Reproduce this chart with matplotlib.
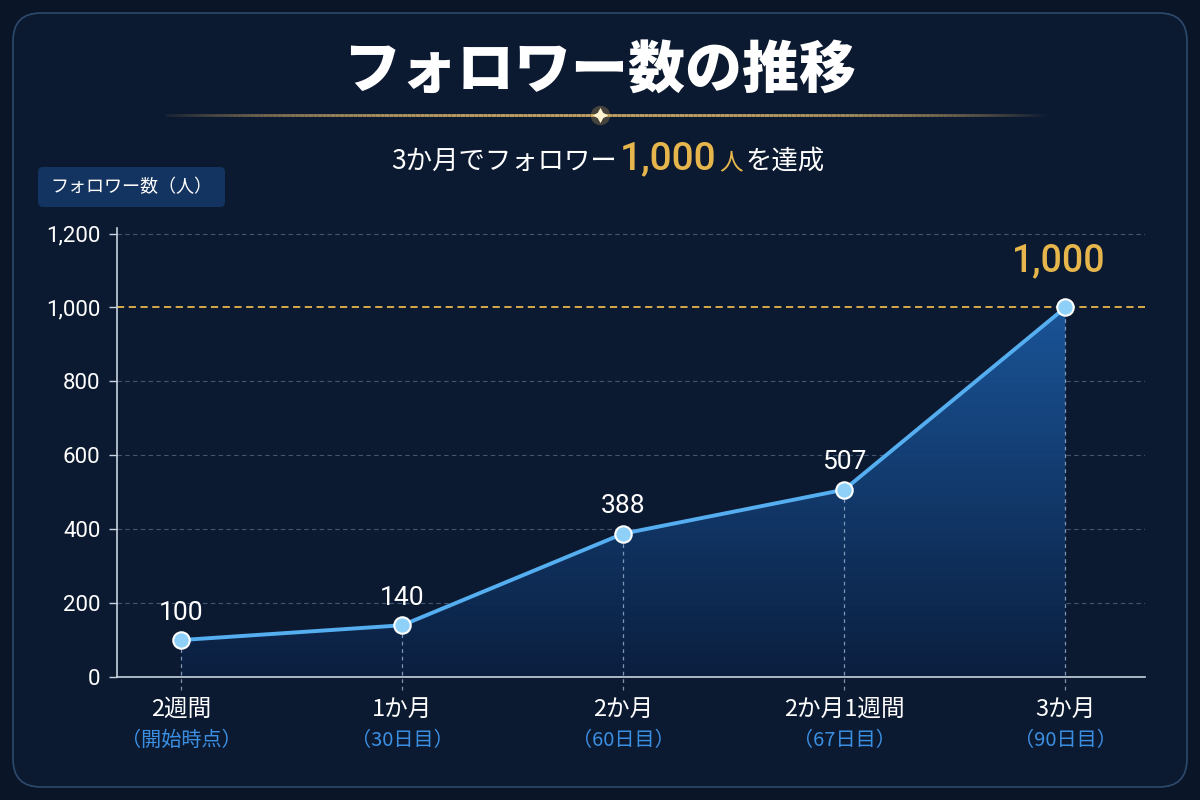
import matplotlib.pyplot as plt
import numpy as np
from matplotlib.patches import FancyBboxPatch
from matplotlib.collections import LineCollection
from matplotlib.colors import LinearSegmentedColormap

# フォロワー数の推移（3か月で1,000人）

plt.rcParams['font.family'] = ['Noto Sans CJK JP', 'DejaVu Sans']

periods = ['2週間', '1か月', '2か月', '2か月1週間', '3か月']
days = ['（開始時点）', '（30日目）', '（60日目）', '（67日目）', '（90日目）']
followers = [100, 140, 388, 507, 1000]
yticks = [0, 200, 400, 600, 800, 1000, 1200]
goal = 1000

BG = '#0a1528'
PANEL = '#0c1a31'
GOLD = '#e6b64c'
LINE = '#55aef0'
SUB = '#3b8fe3'
NUM = ['Roboto', 'Noto Sans CJK JP']

fig = plt.figure(figsize=(12, 8), dpi=100)
fig.patch.set_facecolor(BG)

# 外枠パネル
panel = FancyBboxPatch((0.13, 0.13), 11.74, 7.74, boxstyle='round,pad=0,rounding_size=0.28',
                       transform=fig.dpi_scale_trans, facecolor=PANEL, edgecolor='#2e4a6c',
                       lw=1.2, zorder=-10)
fig.add_artist(panel)

# タイトル
fig.text(0.5, 0.91, 'フォロワー数の推移', ha='center', va='center', color='white',
         fontsize=41, fontweight='heavy')

# 金色の飾り線
xs = np.linspace(1.65, 10.55, 200)
segs = [[(xs[i], 6.85), (xs[i + 1], 6.85)] for i in range(len(xs) - 1)]
d = np.abs((xs[:-1] - 6.0) / 4.45)
alphas = np.clip(1.0 - d ** 3, 0, 1) * 0.9
cols = [(0.85, 0.70, 0.42, a) for a in alphas]
lc = LineCollection(segs, colors=cols, linewidths=2, transform=fig.dpi_scale_trans)
fig.add_artist(lc)
fig.add_artist(plt.Line2D([6.0], [6.85], marker='o', markersize=14, color='#f0c060',
                          markeredgewidth=0, transform=fig.dpi_scale_trans, alpha=0.25))
fig.add_artist(plt.Line2D([6.0], [6.85], marker=(4, 1, 0), markersize=11, color='#fff3cf',
                          markeredgewidth=0, transform=fig.dpi_scale_trans))

# サブタイトル（色・サイズ混在）
pieces = [('3か月でフォロワー', 'white', 19, 'normal', None),
          ('1,000', GOLD, 28, 'medium', NUM),
          ('人', GOLD, 17, 'normal', None),
          ('を達成', 'white', 19, 'normal', None)]
renderer = fig.canvas.get_renderer()
texts = []
for s, c, fs, fw, fam in pieces:
    kw = dict(color=c, fontsize=fs, fontweight=fw, va='baseline', ha='left')
    if fam:
        kw['family'] = fam
    texts.append(fig.text(0, 1 - 169 / 800, s, **kw))
widths = [t.get_window_extent(renderer).width for t in texts]
gap = 3
total = sum(widths) + gap * (len(widths) - 1)
x0 = 608 - total / 2
for t, w in zip(texts, widths):
    t.set_x(x0 / 1200)
    x0 += w + gap

# 縦軸ラベルの箱
box = FancyBboxPatch((0.38, 5.93), 1.87, 0.40, boxstyle='round,pad=0,rounding_size=0.05',
                     transform=fig.dpi_scale_trans, facecolor='#133360', edgecolor='none')
fig.add_artist(box)
fig.text(131 / 1200, 1 - 187 / 800, 'フォロワー数（人）', ha='center', va='center',
         color='white', fontsize=13)

# メインのグラフ
ax = fig.add_axes([117 / 1200, 123 / 800, 1028 / 1200, 449 / 800])
ax.set_facecolor('none')
x = np.arange(len(followers))
ax.set_xlim(-0.29, 4.36)
ax.set_ylim(0, 1215)

# グラデーション塗り
poly = ax.fill_between(x, followers, 0, facecolor='none', edgecolor='none')
cmap = LinearSegmentedColormap.from_list('g', ['#0b1f40', '#1b589e'])
grad = np.linspace(0, 1, 256).reshape(-1, 1)
im = ax.imshow(grad, extent=[-0.29, 4.36, 0, goal], origin='lower', aspect='auto',
               cmap=cmap, alpha=0.95, zorder=1)
im.set_clip_path(poly.get_paths()[0], transform=ax.transData)

# グリッド
for yt in yticks[1:]:
    if yt == goal:
        continue
    ax.axhline(yt, color='#5a7090', lw=0.8, ls=(0, (4, 3)), alpha=0.7, zorder=0.5)
ax.axhline(goal, color=GOLD, lw=1.3, ls=(0, (4, 2.5)), zorder=2)

ax.vlines(x, -35, followers, colors='#9ab2d0', lw=0.9, linestyles=(0, (3, 3)),
          alpha=0.8, zorder=2, clip_on=False)

ax.plot(x, followers, color=LINE, lw=2.8, zorder=4)
ax.scatter(x, followers, s=140, c='#8fd0f8', edgecolors='white', linewidths=1.5, zorder=5)

for i, v in enumerate(followers):
    if v == goal:
        ax.annotate(f'{v:,}', (i, v), xytext=(-5, 20), textcoords='offset points',
                    ha='center', va='bottom', color=GOLD, fontsize=27, fontweight='medium',
                    family=NUM)
    else:
        ax.annotate(f'{v:,}', (i, v), xytext=(0, 11), textcoords='offset points',
                    ha='center', va='bottom', color='white', fontsize=19, family=NUM)

for sp in ['top', 'right']:
    ax.spines[sp].set_visible(False)
for sp in ['left', 'bottom']:
    ax.spines[sp].set_color('#c8d2de')
    ax.spines[sp].set_linewidth(1.2)

ax.set_yticks(yticks)
ax.set_yticklabels([f'{v:,}' for v in yticks], family=NUM)
ax.tick_params(axis='y', colors='#c8d2de', labelcolor='white', labelsize=16, length=6,
               width=1, pad=6)
ax.set_xticks(x)
ax.set_xticklabels([])
ax.tick_params(axis='x', length=0)

for i in range(len(periods)):
    ax.annotate(periods[i], (i, 0), xytext=(0, -15), textcoords='offset points',
                ha='center', va='top', color='white', fontsize=17)
    ax.annotate(days[i], (i, 0), xytext=(0, -38), textcoords='offset points',
                ha='center', va='top', color=SUB, fontsize=14.5)

fig.savefig('out.png', dpi=100, facecolor=BG)
